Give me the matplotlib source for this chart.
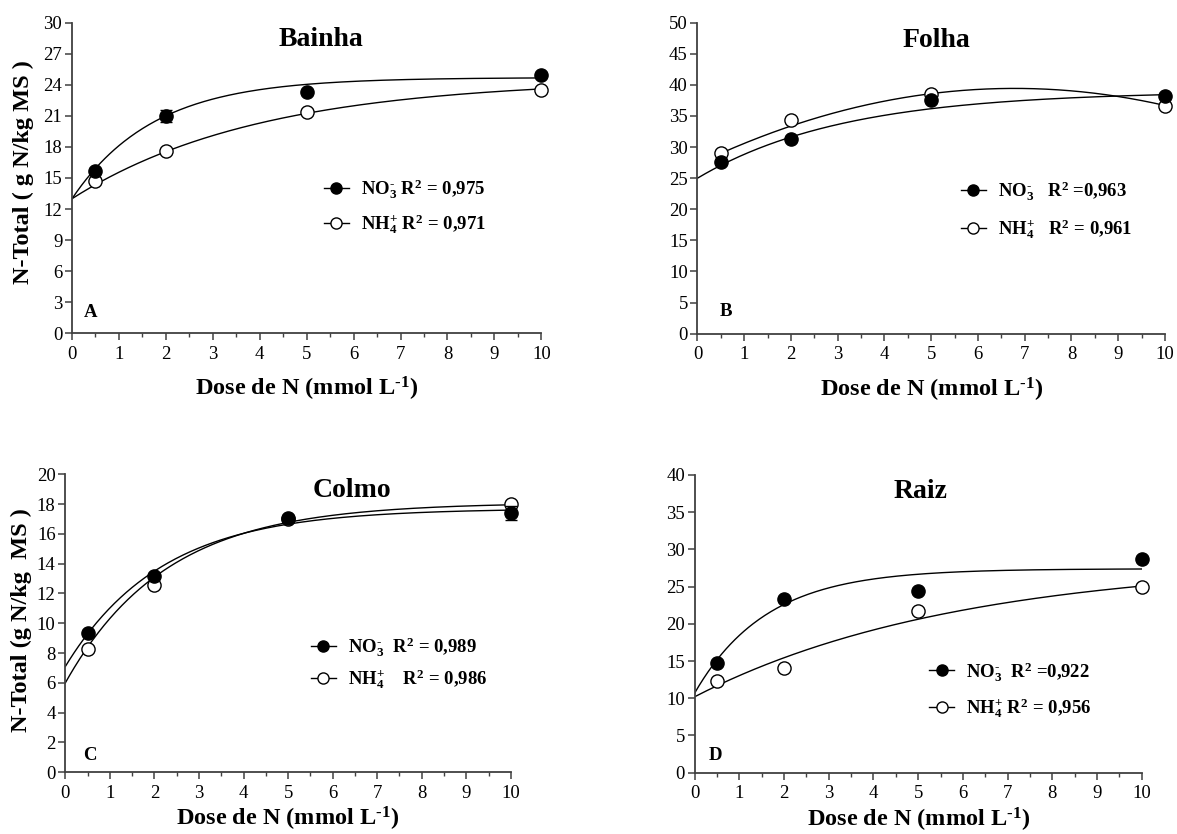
import numpy as np
import matplotlib
matplotlib.use('Agg')
import matplotlib.pyplot as plt
from matplotlib.lines import Line2D
from matplotlib.ticker import MultipleLocator

plt.rcParams['font.family'] = 'Liberation Serif'
plt.rcParams['mathtext.fontset'] = 'custom'
plt.rcParams['mathtext.rm'] = 'Liberation Serif:bold'
plt.rcParams['mathtext.default'] = 'rm'

# N dose levels (mmol/L)
dose = [0.5, 2, 5, 10]

# total N measured in each plant part (g N / kg DM)
bainha_no3 = [15.7, 21.0, 23.3, 24.9]
bainha_nh4 = [14.7, 17.6, 21.4, 23.5]
folha_no3 = [27.6, 31.3, 37.5, 38.2]
folha_nh4 = [29.0, 34.3, 38.5, 36.6]
colmo_no3 = [9.37, 13.2, 17.1, 17.4]
colmo_nh4 = [8.3, 12.6, 17.0, 17.98]
raiz_no3 = [14.8, 23.4, 24.4, 28.7]
raiz_nh4 = [12.3, 14.0, 21.75, 24.9]

# standard errors (only a few are large enough to show)
bainha_no3_err = [0, 0.6, 0, 0]
colmo_no3_err = [0, 0, 0, 0.5]

# fitted regressions: ('exp', y0, a, b) -> y0 + a*(1 - exp(-b*x))
#                     ('quad', c0, c1, c2) -> c0 + c1*x + c2*x^2
bainha_fit_no3 = ('exp', 13.0, 11.7, 0.576)
bainha_fit_nh4 = ('exp', 13.0, 11.55, 0.25)
folha_fit_no3 = ('exp', 25.0, 14.0, 0.32)
folha_fit_nh4 = ('quad', 27.27, 3.588, -0.2646)
colmo_fit_no3 = ('exp', 7.1, 10.6, 0.463)
colmo_fit_nh4 = ('exp', 6.0, 12.1, 0.442)
raiz_fit_no3 = ('exp', 10.7, 16.7, 0.624)
raiz_fit_nh4 = ('exp', 10.2, 18.2, 0.17)

NO3 = r'NO$_3^{\text{-}}$'
NH4 = r'NH$_4^{+}$'
R2 = r'R$^2$'
r2_labels = {
    'A': (NO3 + ' ' + R2 + ' = 0,975', NH4 + ' ' + R2 + ' = 0,971'),
    'B': (NO3 + '   ' + R2 + ' =0,963', NH4 + '   ' + R2 + ' = 0,961'),
    'C': (NO3 + '  ' + R2 + ' = 0,989', NH4 + '    ' + R2 + ' = 0,986'),
    'D': (NO3 + '  ' + R2 + ' =0,922', NH4 + ' ' + R2 + ' = 0,956'),
}


def curve(fit, x):
    kind, p0, p1, p2 = fit
    if kind == 'exp':
        return p0 + p1 * (1 - np.exp(-p2 * x))
    return p0 + p1 * x + p2 * x ** 2


def panel(ax, title, tpos, letter, lpos, no3, nh4, fit_no3, fit_nh4,
          ymax, ystep, leg, no3_err=None, nh4_start=0.0, ylabel=None,
          xlabel_y=-0.135):
    xx = np.linspace(0, 10, 300)
    ax.plot(xx, curve(fit_no3, xx), color='black', lw=1.0)
    xn = np.linspace(nh4_start, 10, 300)
    ax.plot(xn, curve(fit_nh4, xn), color='black', lw=1.0)

    ax.plot(dose, nh4, 'o', ms=9.5, mfc='white', mec='black', mew=1.0,
            clip_on=False, zorder=3)
    if no3_err is not None:
        ax.errorbar(dose, no3, yerr=no3_err, fmt='none', ecolor='black',
                    elinewidth=1.0, capsize=4, zorder=3, clip_on=False)
    ax.plot(dose, no3, 'o', ms=9.5, mfc='black', mec='black',
            clip_on=False, zorder=4)

    ax.set_xlim(0, 10)
    ax.set_ylim(0, ymax)
    ax.xaxis.set_major_locator(MultipleLocator(1))
    ax.xaxis.set_minor_locator(MultipleLocator(0.5))
    ax.yaxis.set_major_locator(MultipleLocator(ystep))
    for s in ['top', 'right']:
        ax.spines[s].set_visible(False)
    for s in ['left', 'bottom']:
        ax.spines[s].set_color('#404040')
        ax.spines[s].set_linewidth(1.3)
    ax.tick_params(which='major', direction='out', length=5, width=1.1,
                   color='#404040', labelsize=13.5, pad=4)
    ax.tick_params(axis='y', pad=2)
    ax.tick_params(which='minor', direction='out', length=3, width=1.0,
                   color='#404040')

    ax.text(tpos[0], tpos[1], title, ha='center', va='baseline',
            fontsize=20, fontweight='bold')
    ax.text(lpos[0], lpos[1], letter, ha='center', va='baseline',
            fontsize=13.5, fontweight='bold')

    ax.set_xlabel(r'Dose de N (mmol L$^{\text{-1}}$)', fontsize=17.5,
                  fontweight='bold')
    ax.xaxis.set_label_coords(0.5, xlabel_y)
    if ylabel is not None:
        ax.set_ylabel(ylabel[0], fontsize=17.5, fontweight='bold')
        ax.yaxis.set_label_coords(ylabel[1], ylabel[2])

    handles = [
        Line2D([], [], color='black', lw=1.0, marker='o', ms=8,
               mfc='black', mec='black'),
        Line2D([], [], color='black', lw=1.0, marker='o', ms=8,
               mfc='white', mec='black', mew=1.0),
    ]
    lx, ly, lsp = leg
    ax.legend(handles, r2_labels[letter], loc='center left',
              bbox_to_anchor=(lx, ly), frameon=False, borderpad=0,
              borderaxespad=0, handlelength=1.35, handletextpad=0.65,
              labelspacing=lsp, prop={'weight': 'bold', 'size': 13.5})


fig = plt.figure(figsize=(11.77, 8.34), dpi=100)
axA = fig.add_axes([0.0612, 0.6004, 0.3987, 0.3724])
axB = fig.add_axes([0.5926, 0.5999, 0.3972, 0.3729])
axC = fig.add_axes([0.0555, 0.0740, 0.3785, 0.3573])
axD = fig.add_axes([0.5902, 0.0735, 0.3798, 0.3570])

panel(axA, 'Bainha', (5.31, 27.7), 'A', (0.40, 1.6),
      bainha_no3, bainha_nh4, bainha_fit_no3, bainha_fit_nh4,
      30, 3, (0.536, 0.408, 0.6), no3_err=bainha_no3_err,
      ylabel=('N-Total ( g N/kg MS )', -0.081, 0.519))
panel(axB, 'Folha', (5.11, 46.1), 'B', (0.6, 2.8),
      folha_no3, folha_nh4, folha_fit_no3, folha_fit_nh4,
      50, 5, (0.563, 0.397, 0.75), nh4_start=0.5)
panel(axC, 'Colmo', (6.43, 18.5), 'C', (0.55, 0.83),
      colmo_no3, colmo_nh4, colmo_fit_no3, colmo_fit_nh4,
      20, 2, (0.551, 0.366, 0.45), no3_err=colmo_no3_err,
      ylabel=('N-Total (g N/kg  MS )', -0.075, 0.511), xlabel_y=-0.11)
panel(axD, 'Raiz', (5.05, 36.9), 'D', (0.47, 1.75),
      raiz_no3, raiz_nh4, raiz_fit_no3, raiz_fit_nh4,
      40, 5, (0.524, 0.279, 0.65), xlabel_y=-0.11)

fig.savefig('out.png', dpi=100)
